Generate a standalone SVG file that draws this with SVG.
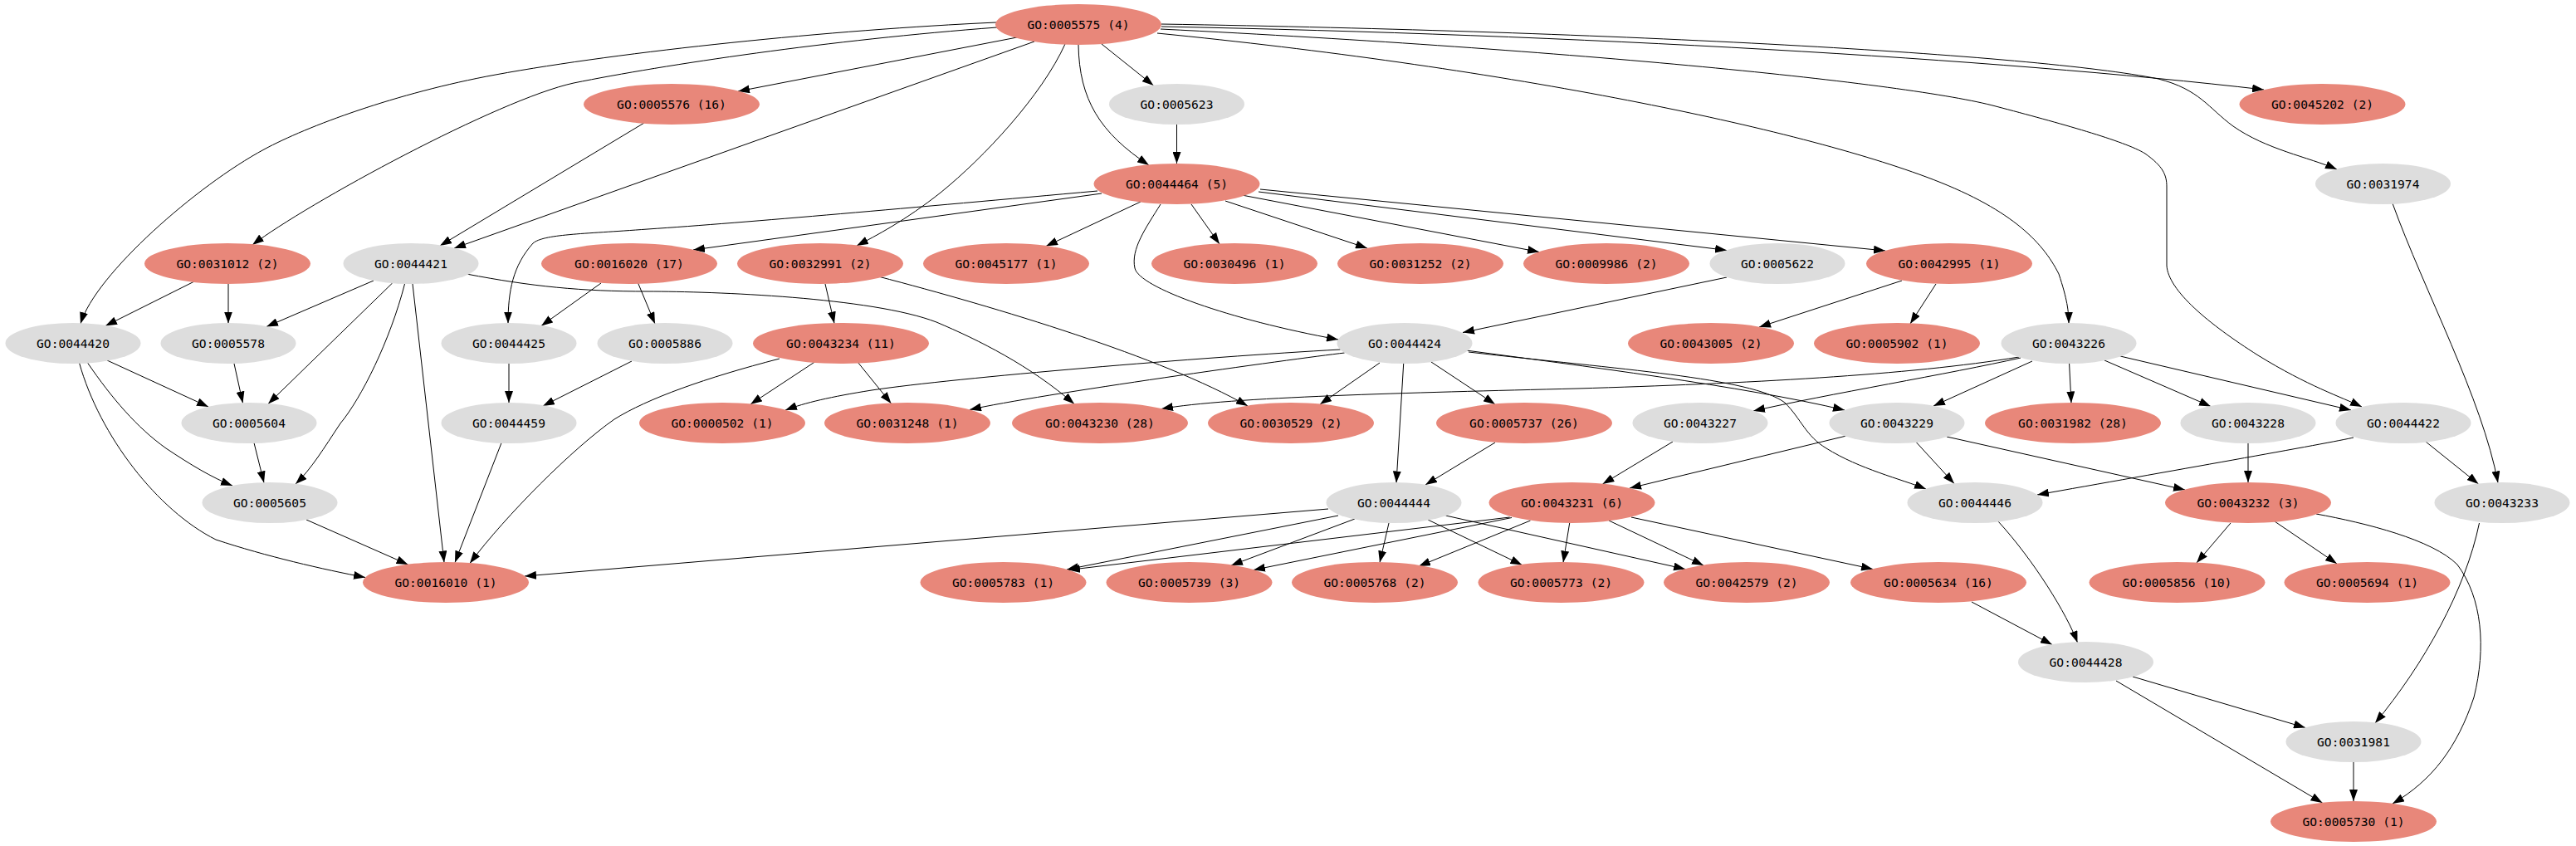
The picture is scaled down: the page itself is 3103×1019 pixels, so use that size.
<svg xmlns="http://www.w3.org/2000/svg" width="3103" height="1019" viewBox="0 0 3103 1019">
<defs>
<style>
.r ellipse{fill:#E8877A}
.g ellipse{fill:#DDDDDD}
text{font-family:"DejaVu Sans Mono","Liberation Mono",monospace;font-size:14.6px;text-anchor:middle;fill:#000}
#edges path{fill:none;stroke:#000;stroke-width:1;marker-end:url(#a)}
</style>
<marker id="a" markerWidth="14" markerHeight="10" refX="14" refY="5" orient="auto" markerUnits="userSpaceOnUse"><path d="M0,0 L14,5 L0,10 z" fill="#000"/></marker>
</defs>
<rect width="3103" height="1019" fill="#fff"/>
<g id="edges">
<path d="M1225,45 L889,110"/>
<path d="M1246,50 L547,299"/>
<path d="M1201,33 C1000,48 800,78 691,100 C600,120 370,245 304,295"/>
<path d="M1200,27 C1000,36 750,62 597,90 C477,112 370,152 318,180 C238,223 115,330 97,390"/>
<path d="M1283,53 C1255,115 1185,190 1133,232 C1090,266 1055,284 1032,296"/>
<path d="M1299,54 C1300,120 1325,160 1384,199"/>
<path d="M1327,53 L1389.5,103"/>
<path d="M1399,32 C1900,42 2400,70 2727,108"/>
<path d="M1399,29 C1950,38 2450,65 2600,95 C2650,108 2660,130 2690,152 C2730,180 2780,189 2815,204"/>
<path d="M1394,40 C1800,80 2150,150 2320,213 C2420,250 2460,290 2480,330 C2490,360 2492,375 2492,389.5"/>
<path d="M1398,35 C1900,60 2300,100 2404,128 C2480,148 2560,170 2584,185 C2605,200 2610,210 2610,225 L2610,320 C2612,350 2660,390 2720,428 C2780,465 2820,478 2845,490"/>
<path d="M776,148 L530,296"/>
<path d="M1417.5,150 L1417.5,197"/>
<path d="M1327,233 L835,301"/>
<path d="M1322,230 C1100,250 900,268 780,276 C700,282 655,282 642,293 C618,320 612,350 612,389.5"/>
<path d="M1374,243 L1260,296.5"/>
<path d="M1435,246 L1469,294"/>
<path d="M1476,242 L1647,299"/>
<path d="M1496,235 L1854,303.5"/>
<path d="M1516,231 L2080,301.5"/>
<path d="M1518,228 L2271,302"/>
<path d="M1398,246 C1380,275 1362,300 1367,323 C1372,346 1480,385 1612,409"/>
<path d="M2080,334 L1762,400.5"/>
<path d="M2291,338 L2119,394"/>
<path d="M2332,342 L2301,390"/>
<path d="M234,339 L127,392.5"/>
<path d="M275,342 L275,389.5"/>
<path d="M450,338 L321,393.5"/>
<path d="M472.6,341 L323,486.5"/>
<path d="M487.5,342 C470,410 435,480 410,510 C390,540 375,565 356,583"/>
<path d="M497,342 L535,677.5"/>
<path d="M562,330 C640,345 700,351 780,351 C860,351 1050,358 1128,388 C1180,410 1240,440 1294,486.5"/>
<path d="M724,341 L652,392.5"/>
<path d="M768.6,341 L789,390"/>
<path d="M994,342 L1005,389.5"/>
<path d="M1058,333 C1200,370 1400,430 1503,489"/>
<path d="M129,434 L251,490"/>
<path d="M105.5,437 C135,480 165,515 200,540 C230,560 255,575 280,585"/>
<path d="M95.5,437 C120,525 190,615 260,650 C320,670 390,686 440,695.5"/>
<path d="M282,438 L292.5,485.5"/>
<path d="M613,438 L613,485"/>
<path d="M761,435 L654,489"/>
<path d="M306,533.5 L318,581.5"/>
<path d="M604,533.5 L548,677.5"/>
<path d="M369,626 L491.5,680"/>
<path d="M981.4,436 L904,487"/>
<path d="M1033.6,436.7 L1073.5,486"/>
<path d="M939,432 C850,455 780,480 740,505 C690,540 610,620 566,678.5"/>
<path d="M1614.6,421 C1450,430 1150,455 1050,470 C1000,478 970,485 946,494"/>
<path d="M1619.6,425 C1560,432 1250,475 1168,493.5"/>
<path d="M1662,437 L1590,487"/>
<path d="M1690.7,438 L1682,581.5"/>
<path d="M1724,436 L1801,487"/>
<path d="M1766,422 C1900,440 2100,465 2222,494"/>
<path d="M1769,424 C1950,445 2110,455 2150,485 C2170,505 2175,525 2200,540 C2240,565 2290,577 2320,589"/>
<path d="M2432,430 C2300,452 2100,462 1900,468 C1700,473 1480,478 1399,492.5"/>
<path d="M2434,431 C2350,450 2200,475 2112,495"/>
<path d="M2448,435 L2329,489"/>
<path d="M2492.6,438 L2495,485.5"/>
<path d="M2535,434 L2663,489.5"/>
<path d="M2554,429 L2832,494"/>
<path d="M1600,613 L632,694"/>
<path d="M1612,621 L1285,686"/>
<path d="M1818.6,623 L1287,686.5"/>
<path d="M1632,625 L1483,681"/>
<path d="M1821,623.5 L1510,686.5"/>
<path d="M1673,630 L1662,677.5"/>
<path d="M1843.5,627 L1709,682"/>
<path d="M1720,626 L1833.5,680.5"/>
<path d="M1890.7,630 L1883,677.5"/>
<path d="M1741.5,621 L2030,685.5"/>
<path d="M1938,627 L2052,681"/>
<path d="M1965,623 L2256,685.5"/>
<path d="M1801,533 L1717,584"/>
<path d="M2015,532 L1930.5,583"/>
<path d="M2224,525 L1963,588"/>
<path d="M2308.6,533 L2354,582.5"/>
<path d="M2345,526 L2632,590"/>
<path d="M2835,527 C2810,533 2600,570 2454,596"/>
<path d="M2922,532 L2985.5,583"/>
<path d="M2708,534 L2708,581"/>
<path d="M2882,245 C2920,350 2990,480 3009,581.5"/>
<path d="M2687,630 L2646,678"/>
<path d="M2740,628 L2815,679"/>
<path d="M2790,619 C2850,630 2930,650 2960,680 C2990,720 2995,780 2980,840 C2960,900 2930,940 2882,968"/>
<path d="M2407,628 C2450,675 2490,740 2502.5,774"/>
<path d="M2375,725 L2472,776.5"/>
<path d="M2986.5,630 C2970,710 2920,800 2861,871"/>
<path d="M2569,815 L2777,876.5"/>
<path d="M2549,820 L2797.5,967"/>
<path d="M2835,918 L2835,965"/>
</g>
<g id="GO_0005575" class="r"><ellipse cx="1299" cy="29.5" rx="100" ry="24.5"/><text x="1299" y="34.8">GO:0005575 (4)</text></g>
<g id="GO_0005576" class="r"><ellipse cx="809" cy="125.5" rx="106" ry="24.5"/><text x="809" y="130.8">GO:0005576 (16)</text></g>
<g id="GO_0005623" class="g"><ellipse cx="1417.5" cy="125.5" rx="81.5" ry="24.5"/><text x="1417.5" y="130.8">GO:0005623</text></g>
<g id="GO_0045202" class="r"><ellipse cx="2797.5" cy="125.5" rx="100" ry="24.5"/><text x="2797.5" y="130.8">GO:0045202 (2)</text></g>
<g id="GO_0044464" class="r"><ellipse cx="1417.5" cy="221.5" rx="100" ry="24.5"/><text x="1417.5" y="226.8">GO:0044464 (5)</text></g>
<g id="GO_0031974" class="g"><ellipse cx="2870.5" cy="221.5" rx="81.5" ry="24.5"/><text x="2870.5" y="226.8">GO:0031974</text></g>
<g id="GO_0031012" class="r"><ellipse cx="274" cy="317.5" rx="100" ry="24.5"/><text x="274" y="322.8">GO:0031012 (2)</text></g>
<g id="GO_0044421" class="g"><ellipse cx="495" cy="317.5" rx="81.5" ry="24.5"/><text x="495" y="322.8">GO:0044421</text></g>
<g id="GO_0016020" class="r"><ellipse cx="758" cy="317.5" rx="106" ry="24.5"/><text x="758" y="322.8">GO:0016020 (17)</text></g>
<g id="GO_0032991" class="r"><ellipse cx="988" cy="317.5" rx="100" ry="24.5"/><text x="988" y="322.8">GO:0032991 (2)</text></g>
<g id="GO_0045177" class="r"><ellipse cx="1212" cy="317.5" rx="100" ry="24.5"/><text x="1212" y="322.8">GO:0045177 (1)</text></g>
<g id="GO_0030496" class="r"><ellipse cx="1487" cy="317.5" rx="100" ry="24.5"/><text x="1487" y="322.8">GO:0030496 (1)</text></g>
<g id="GO_0031252" class="r"><ellipse cx="1711" cy="317.5" rx="100" ry="24.5"/><text x="1711" y="322.8">GO:0031252 (2)</text></g>
<g id="GO_0009986" class="r"><ellipse cx="1935" cy="317.5" rx="100" ry="24.5"/><text x="1935" y="322.8">GO:0009986 (2)</text></g>
<g id="GO_0005622" class="g"><ellipse cx="2141" cy="317.5" rx="81.5" ry="24.5"/><text x="2141" y="322.8">GO:0005622</text></g>
<g id="GO_0042995" class="r"><ellipse cx="2348" cy="317.5" rx="100" ry="24.5"/><text x="2348" y="322.8">GO:0042995 (1)</text></g>
<g id="GO_0044420" class="g"><ellipse cx="88" cy="413.5" rx="81.5" ry="24.5"/><text x="88" y="418.8">GO:0044420</text></g>
<g id="GO_0005578" class="g"><ellipse cx="275" cy="413.5" rx="81.5" ry="24.5"/><text x="275" y="418.8">GO:0005578</text></g>
<g id="GO_0044425" class="g"><ellipse cx="613" cy="413.5" rx="81.5" ry="24.5"/><text x="613" y="418.8">GO:0044425</text></g>
<g id="GO_0005886" class="g"><ellipse cx="801" cy="413.5" rx="81.5" ry="24.5"/><text x="801" y="418.8">GO:0005886</text></g>
<g id="GO_0043234" class="r"><ellipse cx="1013" cy="413.5" rx="106" ry="24.5"/><text x="1013" y="418.8">GO:0043234 (11)</text></g>
<g id="GO_0044424" class="g"><ellipse cx="1692" cy="413.5" rx="81.5" ry="24.5"/><text x="1692" y="418.8">GO:0044424</text></g>
<g id="GO_0043005" class="r"><ellipse cx="2061" cy="413.5" rx="100" ry="24.5"/><text x="2061" y="418.8">GO:0043005 (2)</text></g>
<g id="GO_0005902" class="r"><ellipse cx="2285" cy="413.5" rx="100" ry="24.5"/><text x="2285" y="418.8">GO:0005902 (1)</text></g>
<g id="GO_0043226" class="g"><ellipse cx="2492" cy="413.5" rx="81.5" ry="24.5"/><text x="2492" y="418.8">GO:0043226</text></g>
<g id="GO_0005604" class="g"><ellipse cx="300" cy="509.5" rx="81.5" ry="24.5"/><text x="300" y="514.8">GO:0005604</text></g>
<g id="GO_0044459" class="g"><ellipse cx="613" cy="509.5" rx="81.5" ry="24.5"/><text x="613" y="514.8">GO:0044459</text></g>
<g id="GO_0000502" class="r"><ellipse cx="870" cy="509.5" rx="100" ry="24.5"/><text x="870" y="514.8">GO:0000502 (1)</text></g>
<g id="GO_0031248" class="r"><ellipse cx="1093" cy="509.5" rx="100" ry="24.5"/><text x="1093" y="514.8">GO:0031248 (1)</text></g>
<g id="GO_0043230" class="r"><ellipse cx="1325" cy="509.5" rx="106" ry="24.5"/><text x="1325" y="514.8">GO:0043230 (28)</text></g>
<g id="GO_0030529" class="r"><ellipse cx="1555" cy="509.5" rx="100" ry="24.5"/><text x="1555" y="514.8">GO:0030529 (2)</text></g>
<g id="GO_0005737" class="r"><ellipse cx="1836" cy="509.5" rx="106" ry="24.5"/><text x="1836" y="514.8">GO:0005737 (26)</text></g>
<g id="GO_0043227" class="g"><ellipse cx="2048" cy="509.5" rx="81.5" ry="24.5"/><text x="2048" y="514.8">GO:0043227</text></g>
<g id="GO_0043229" class="g"><ellipse cx="2285" cy="509.5" rx="81.5" ry="24.5"/><text x="2285" y="514.8">GO:0043229</text></g>
<g id="GO_0031982" class="r"><ellipse cx="2497" cy="509.5" rx="106" ry="24.5"/><text x="2497" y="514.8">GO:0031982 (28)</text></g>
<g id="GO_0043228" class="g"><ellipse cx="2708" cy="509.5" rx="81.5" ry="24.5"/><text x="2708" y="514.8">GO:0043228</text></g>
<g id="GO_0044422" class="g"><ellipse cx="2895" cy="509.5" rx="81.5" ry="24.5"/><text x="2895" y="514.8">GO:0044422</text></g>
<g id="GO_0005605" class="g"><ellipse cx="325" cy="605.5" rx="81.5" ry="24.5"/><text x="325" y="610.8">GO:0005605</text></g>
<g id="GO_0044444" class="g"><ellipse cx="1679" cy="605.5" rx="81.5" ry="24.5"/><text x="1679" y="610.8">GO:0044444</text></g>
<g id="GO_0043231" class="r"><ellipse cx="1893.5" cy="605.5" rx="100" ry="24.5"/><text x="1893.5" y="610.8">GO:0043231 (6)</text></g>
<g id="GO_0044446" class="g"><ellipse cx="2379" cy="605.5" rx="81.5" ry="24.5"/><text x="2379" y="610.8">GO:0044446</text></g>
<g id="GO_0043232" class="r"><ellipse cx="2708" cy="605.5" rx="100" ry="24.5"/><text x="2708" y="610.8">GO:0043232 (3)</text></g>
<g id="GO_0043233" class="g"><ellipse cx="3014" cy="605.5" rx="81.5" ry="24.5"/><text x="3014" y="610.8">GO:0043233</text></g>
<g id="GO_0016010" class="r"><ellipse cx="537" cy="701.5" rx="100" ry="24.5"/><text x="537" y="706.8">GO:0016010 (1)</text></g>
<g id="GO_0005783" class="r"><ellipse cx="1208.5" cy="701.5" rx="100" ry="24.5"/><text x="1208.5" y="706.8">GO:0005783 (1)</text></g>
<g id="GO_0005739" class="r"><ellipse cx="1432.5" cy="701.5" rx="100" ry="24.5"/><text x="1432.5" y="706.8">GO:0005739 (3)</text></g>
<g id="GO_0005768" class="r"><ellipse cx="1656" cy="701.5" rx="100" ry="24.5"/><text x="1656" y="706.8">GO:0005768 (2)</text></g>
<g id="GO_0005773" class="r"><ellipse cx="1880.5" cy="701.5" rx="100" ry="24.5"/><text x="1880.5" y="706.8">GO:0005773 (2)</text></g>
<g id="GO_0042579" class="r"><ellipse cx="2104" cy="701.5" rx="100" ry="24.5"/><text x="2104" y="706.8">GO:0042579 (2)</text></g>
<g id="GO_0005634" class="r"><ellipse cx="2335" cy="701.5" rx="106" ry="24.5"/><text x="2335" y="706.8">GO:0005634 (16)</text></g>
<g id="GO_0005856" class="r"><ellipse cx="2622.5" cy="701.5" rx="106" ry="24.5"/><text x="2622.5" y="706.8">GO:0005856 (10)</text></g>
<g id="GO_0005694" class="r"><ellipse cx="2851.5" cy="701.5" rx="100" ry="24.5"/><text x="2851.5" y="706.8">GO:0005694 (1)</text></g>
<g id="GO_0044428" class="g"><ellipse cx="2512.5" cy="797.5" rx="81.5" ry="24.5"/><text x="2512.5" y="802.8">GO:0044428</text></g>
<g id="GO_0031981" class="g"><ellipse cx="2835" cy="893.5" rx="81.5" ry="24.5"/><text x="2835" y="898.8">GO:0031981</text></g>
<g id="GO_0005730" class="r"><ellipse cx="2835" cy="989.5" rx="100" ry="24.5"/><text x="2835" y="994.8">GO:0005730 (1)</text></g>
</svg>
